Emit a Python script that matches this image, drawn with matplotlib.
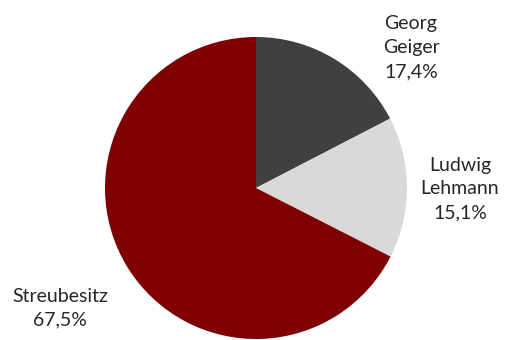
import matplotlib.pyplot as plt

names = ["Georg\nGeiger", "Ludwig\nLehmann", "Streubesitz"]
shares = [17.4, 15.1, 67.5]
colors = ["#404040", "#d9d9d9", "#7f0000"]

fig = plt.figure(figsize=(5.05, 3.4), dpi=100)
ax = fig.add_axes([0, 0, 1, 1])

ax.pie(shares, colors=colors, startangle=90, counterclock=False,
       center=(256, 152), radius=151, frame=True,
       wedgeprops=dict(linewidth=0))
ax.set_xlim(0, 505)
ax.set_ylim(0, 340)
ax.set_aspect("equal")
ax.axis("off")

# label positions in pixel space (y measured from bottom)
label_pos = [(411, 292), (460, 151), (60, 32)]
for name, val, (x, y) in zip(names, shares, label_pos):
    txt = f"{name}\n{val:.1f}%".replace(".", ",")
    ax.text(x, y, txt, ha="center", va="center", multialignment="center",
            fontsize=14, family="Lato", color="#262626", linespacing=1.5)

fig.savefig("out.png", dpi=100)
